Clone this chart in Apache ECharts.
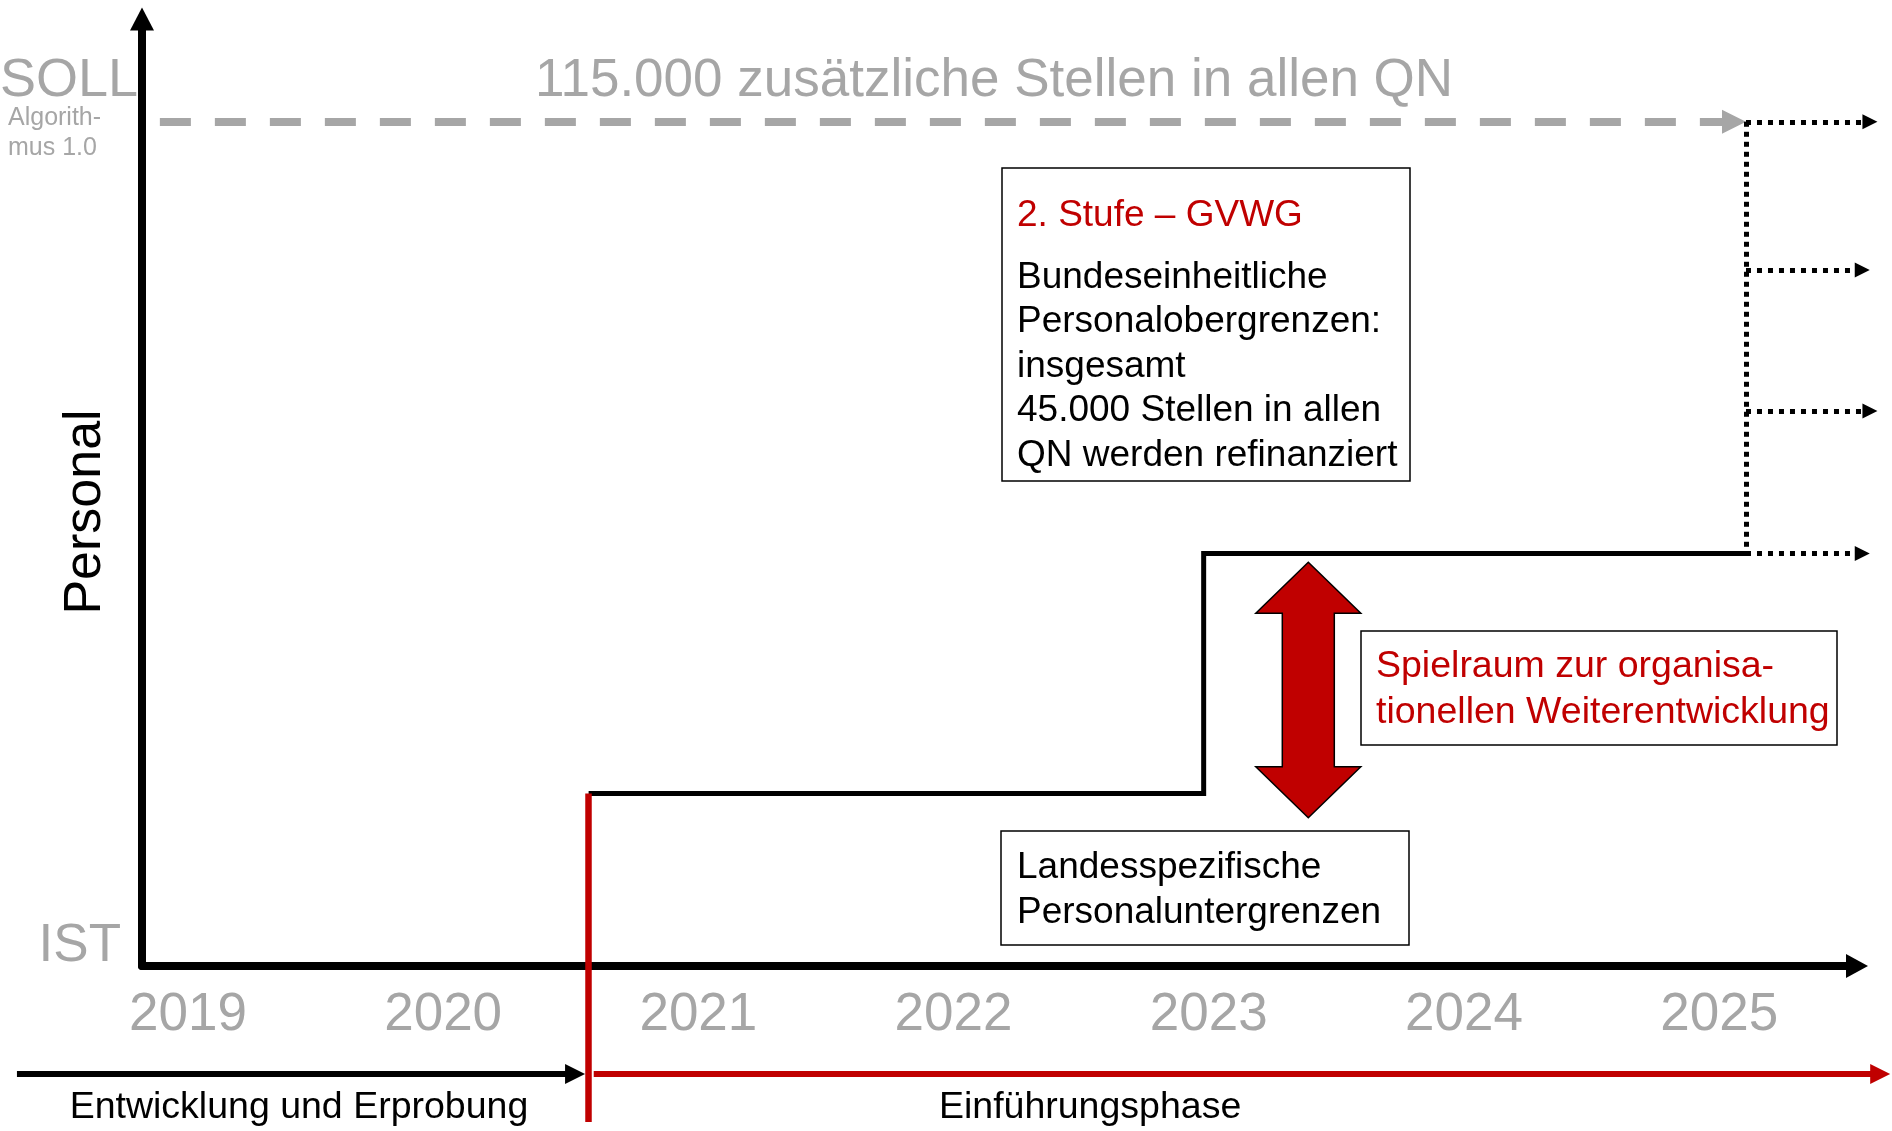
<!DOCTYPE html>
<html>
<head>
<meta charset="utf-8">
<script src="https://cdn.jsdelivr.net/npm/echarts@6/dist/echarts.min.js"></script>
<style>
  html, body { margin: 0; padding: 0; background: #fff; }
  #chart { width: 1892px; height: 1131px; }
</style>
</head>
<body>
<div id="chart"></div>
<script>
// --- data (years on x, staff on y; IST = 0, SOLL = 115.000) ---
var years = [2019, 2020, 2021, 2022, 2023, 2024, 2025];
var sollValue = 115000;
var sollFrom = 2018.89;
var projStart = 2025.105;
var stepYears = [2020.57, 2022.98, 2022.98, 2025.105];
var stepValues = [23500, 23500, 56200, 56200];
var projLevels = [115000, 94800, 75600, 56200];
var projEnds = [2025.62, 2025.59, 2025.62, 2025.59];
var phaseNames = ['Entwicklung und Erprobung', 'Einführungsphase'];
var phaseStarts = [2018.33, 2020.59];
var phaseEnds = [2020.556, 2025.67];
var phaseSplit = 2020.57;
var spielraum = [2023.39, 20200, 55000];

// --- layout ---
var FONT = "'Liberation Sans', Arial, sans-serif";
var GREY = '#a6a6a6';
var RED = '#c00000';
var xMin = 2018.82, xMax = 2025.54;
var yMax = 129000;
var gridL = 142, gridR = 35, gridT = 19, gridB = 165;
var pxPerYear = (1892 - gridL - gridR) / (xMax - xMin);
var phaseY = -14700;      // below the axis, same scale
var splitBottom = -21250;
var phaseLabelX = [2019.435, 2022.535];

function back(year, px) { return year - px / pxPerYear; }

var chart = echarts.init(document.getElementById('chart'));

var projData = projLevels.map(function (v, i) {
  return { coords: [[projStart, v], [back(projEnds[i], 7.5), v]] };
});

var option = {
  animation: false,
  backgroundColor: '#fff',
  grid: { left: gridL, right: gridR, top: gridT, bottom: gridB },
  xAxis: {
    type: 'value',
    min: xMin,
    max: xMax,
    axisLine: {
      onZero: false,
      symbol: ['none', 'triangle'],
      symbolSize: [24, 22],
      lineStyle: { color: '#000', width: 8 }
    },
    axisTick: { show: false },
    splitLine: { show: false },
    axisLabel: {
      customValues: years,
      formatter: function (v) { return String(v); },
      color: GREY,
      fontSize: 53,
      fontFamily: FONT,
      margin: 49,
      verticalAlign: 'middle'
    }
  },
  yAxis: {
    type: 'value',
    min: 0,
    max: yMax,
    axisLine: {
      show: true,
      onZero: false,
      symbol: ['none', 'triangle'],
      symbolSize: [24, 23],
      lineStyle: { color: '#000', width: 8 }
    },
    axisTick: { show: false },
    splitLine: { show: false },
    axisLabel: { show: false }
  },
  series: [
    {
      // SOLL dashed line
      type: 'lines',
      coordinateSystem: 'cartesian2d',
      clip: false,
      silent: true,
      symbol: ['none', 'triangle'],
      symbolSize: 24,
      lineStyle: { color: GREY, width: 8, type: [31, 24], opacity: 1 },
      data: [{ coords: [[sollFrom, sollValue], [back(projStart, 12), sollValue]] }]
    },
    {
      // dotted projection arrows
      type: 'lines',
      coordinateSystem: 'cartesian2d',
      clip: false,
      silent: true,
      symbol: ['none', 'triangle'],
      symbolSize: 15,
      lineStyle: { color: '#000', width: 5, type: [5, 6], opacity: 1 },
      data: projData
    },
    {
      type: 'lines',
      coordinateSystem: 'cartesian2d',
      clip: false,
      silent: true,
      symbol: 'none',
      lineStyle: { color: '#000', width: 5, type: [5, 5], opacity: 1 },
      data: [{ coords: [[projStart, projLevels[0]], [projStart, projLevels[3]]] }]
    },
    {
      // step line (Personalausstattung)
      type: 'line',
      silent: true,
      showSymbol: false,
      symbol: 'none',
      lineStyle: { color: '#000', width: 5, join: 'miter' },
      data: stepYears.map(function (y, i) { return [y, stepValues[i]]; }),
      z: 3
    },
    {
      // phase arrows under the axis
      type: 'lines',
      coordinateSystem: 'cartesian2d',
      clip: false,
      silent: true,
      symbol: ['none', 'triangle'],
      symbolSize: 20,
      data: [
        { coords: [[phaseStarts[0], phaseY], [back(phaseEnds[0], 10), phaseY]],
          lineStyle: { color: '#000', width: 6, opacity: 1 } },
        { coords: [[phaseStarts[1], phaseY], [back(phaseEnds[1], 10), phaseY]],
          lineStyle: { color: RED, width: 6, opacity: 1 } }
      ],
      z: 4
    },
    {
      // red phase divider
      type: 'lines',
      coordinateSystem: 'cartesian2d',
      clip: false,
      silent: true,
      symbol: 'none',
      lineStyle: { color: RED, width: 6.5, opacity: 1 },
      data: [{ coords: [[phaseSplit, stepValues[0]], [phaseSplit, splitBottom]] }],
      z: 5
    },
    {
      // Spielraum double arrow
      type: 'custom',
      silent: true,
      renderItem: function (params, api) {
        var top = api.coord([api.value(0), api.value(2)]);
        var bot = api.coord([api.value(0), api.value(1)]);
        var cx = top[0], hw = 52.5, sw = 26, hh = 51;
        var pts = [
          [cx, top[1]], [cx + hw, top[1] + hh], [cx + sw, top[1] + hh],
          [cx + sw, bot[1] - hh], [cx + hw, bot[1] - hh], [cx, bot[1]],
          [cx - hw, bot[1] - hh], [cx - sw, bot[1] - hh], [cx - sw, top[1] + hh],
          [cx - hw, top[1] + hh]
        ];
        return {
          type: 'polygon',
          shape: { points: pts },
          style: { fill: RED, stroke: '#000', lineWidth: 1.5 }
        };
      },
      data: [spielraum],
      z: 6
    }
  ],
  graphic: []
};

chart.setOption(option);

var g = [];
function txt(x, y, text, size, color, align, vAlign, extra) {
  var el = {
    type: 'text', x: x, y: y, silent: true, z: 50,
    style: { text: text, fill: color, font: size + 'px ' + FONT, align: align, verticalAlign: vAlign }
  };
  if (extra) { for (var k in extra) { el.style[k] = extra[k]; } }
  return el;
}
function box(x, y, w, h) {
  return { type: 'rect', z: 40, silent: true, shape: { x: x, y: y, width: w, height: h },
           style: { fill: '#fff', stroke: '#000', lineWidth: 1.5 } };
}

g.push(txt(138, 81, 'SOLL', 54, GREY, 'right', 'middle'));
g.push(txt(121, 946, 'IST', 53, GREY, 'right', 'middle'));
g.push(txt(8, 103, 'Algorith-\nmus 1.0', 25, GREY, 'left', 'top', { lineHeight: 30 }));
g.push(txt(994, 81, '115.000 zusätzliche Stellen in allen QN', 53, GREY, 'center', 'middle'));
g.push({
  type: 'text', x: 86, y: 512, rotation: Math.PI / 2, silent: true, z: 50,
  style: { text: 'Personal', fill: '#000', font: '52px ' + FONT, align: 'center', verticalAlign: 'middle' }
});

// annotation boxes
g.push(box(1002, 168, 408, 313));
g.push(txt(1017, 215.5, '2. Stufe – GVWG', 37, RED, 'left', 'middle'));
g.push(txt(1017, 255.5, 'Bundeseinheitliche\nPersonalobergrenzen:\ninsgesamt\n45.000 Stellen in allen\nQN werden refinanziert',
  37, '#000', 'left', 'top', { lineHeight: 44.5 }));

g.push(box(1001, 831, 408, 114));
g.push(txt(1017, 845.5, 'Landesspezifische\nPersonaluntergrenzen', 37, '#000', 'left', 'top', { lineHeight: 45 }));

g.push(box(1361, 631, 476, 114));
g.push(txt(1376, 643.5, 'Spielraum zur organisa-\ntionellen Weiterentwicklung', 37.5, RED, 'left', 'top', { lineHeight: 46 }));

// phase labels
phaseNames.forEach(function (name, i) {
  var p = chart.convertToPixel({ gridIndex: 0 }, [phaseLabelX[i], 0]);
  g.push(txt(p[0], 1107.5, name, 37.5, '#000', 'center', 'middle'));
});

chart.setOption({ graphic: g });
</script>
</body>
</html>
